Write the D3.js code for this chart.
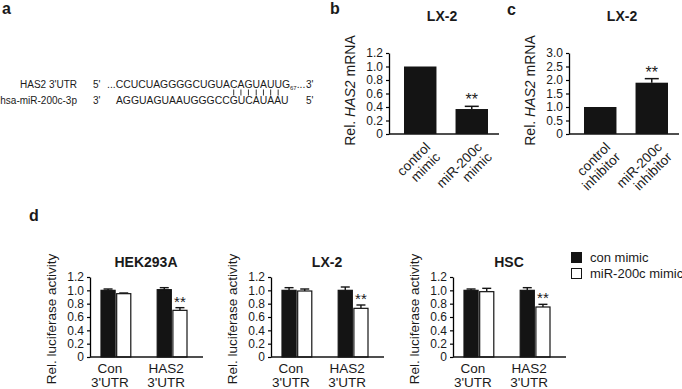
<!DOCTYPE html>
<html>
<head>
<meta charset="utf-8">
<script src="https://cdn.jsdelivr.net/npm/d3@7"></script>
<style>
  body { margin: 0; background: #fff; }
  text { font-family: Arial, "Liberation Sans", Helvetica, sans-serif; fill: #1a1a1a; }
</style>
</head>
<body>
<div id="chart"></div>
<script>
// ---- panel a: sequence pairing ----
const seqLabels = ["HAS2 3'UTR", "hsa-miR-200c-3p"];
const seqEnds = [["5'", "3'"], ["3'", "5'"]];
const utrSeq = "CCUCUAGGGGCUGUACAGUAUUG";
const utrPos = "67";
const mirSeq = "AGGUAGUAAUGGGCCGUCAUAAU";
const pairedIdx = [15, 16, 17, 18, 19, 20, 21];

// ---- panel b / c: qPCR ----
const bCategories = [["control", "mimic"], ["miR-200c", "mimic"]];
const bValues = [1.0, 0.37];
const bErrors = [0, 0.04];
const bSig = ["", "**"];
const bTicks = [0, 0.2, 0.4, 0.6, 0.8, 1.0, 1.2];

const cCategories = [["control", "inhibitor"], ["miR-200c", "inhibitor"]];
const cValues = [1.0, 1.9];
const cErrors = [0, 0.15];
const cSig = ["", "**"];
const cTicks = [0, 0.5, 1.0, 1.5, 2.0, 2.5, 3.0];

// ---- panel d: luciferase ----
const lucCells = ["HEK293A", "LX-2", "HSC"];
const lucGroups = [["Con", "3'UTR"], ["HAS2", "3'UTR"]];
const lucSeries = ["con mimic", "miR-200c mimic"];
const conMimicValues = [[1.0, 1.01], [1.0, 1.0], [1.0, 1.0]];
const conMimicErrors = [[0.02, 0.03], [0.04, 0.05], [0.02, 0.04]];
const mirMimicValues = [[0.95, 0.70], [0.99, 0.73], [0.98, 0.75]];
const mirMimicErrors = [[0.01, 0.04], [0.03, 0.05], [0.05, 0.04]];
const lucSig = [["", ""], ["", "**"]];
const lucTicks = [0, 0.2, 0.4, 0.6, 0.8, 1.0, 1.2];

const svg = d3.select("#chart").append("svg")
    .attr("width", 682)
    .attr("height", 389);

const fmt = d => d === 0 ? "0" : d3.format(".1f")(d);
const ink = "#141414";

// panel letters
[["a", 2, 14], ["b", 330, 14], ["c", 507, 15], ["d", 29, 221]].forEach(([t, x, y]) => {
    svg.append("text").attr("x", x).attr("y", y)
        .attr("font-size", "16px").attr("font-weight", "bold").text(t);
});

// --- a ---
const seqFont = 10;
const gA = svg.append("g");
seqLabels.forEach((lab, i) => {
    const y = i === 0 ? 88 : 104;
    gA.append("text").attr("x", 77).attr("y", y).attr("text-anchor", "end")
        .attr("font-size", seqFont + "px").text(lab);
    gA.append("text").attr("x", 93).attr("y", y)
        .attr("font-size", seqFont + "px").text(seqEnds[i][0]);
    gA.append("text").attr("x", 306).attr("y", y)
        .attr("font-size", seqFont + "px").text(seqEnds[i][1]);
});
const topSeq = gA.append("text").attr("x", 107).attr("y", 88).attr("font-size", "10.4px");
topSeq.append("tspan").text("..." + utrSeq);
topSeq.append("tspan").attr("font-size", "6px").attr("dy", 2).text(utrPos);
topSeq.append("tspan").attr("dy", -2).text("...");

const botSeq = gA.append("text").attr("x", 118).attr("y", 104).attr("font-size", "10.4px").text(mirSeq);

// align the miRNA so paired bases sit under the target bases
const topNode = topSeq.node();
const botNode = botSeq.node();
const tExt = topNode.getExtentOfChar(pairedIdx[0] + 3);
const bExt = botNode.getExtentOfChar(pairedIdx[0]);
botSeq.attr("x", 118 + (tExt.x + tExt.width / 2) - (bExt.x + bExt.width / 2));

pairedIdx.forEach(i => {
    const e = topNode.getExtentOfChar(i + 3);
    const cx = e.x + e.width / 2;
    gA.append("line").attr("x1", cx).attr("x2", cx).attr("y1", 89.5).attr("y2", 95.5)
        .attr("stroke", "#222").attr("stroke-width", 0.9);
});

// --- b and c ---
function qpcrPanel(x0, ticks, cats, values, errors, sig, title) {
    const yBottom = 134, yTop = 53, axisLen = 110;
    const g = svg.append("g");
    const y = d3.scaleLinear().domain([0, ticks[ticks.length - 1]]).range([yBottom, yTop]);
    const x = d3.scaleBand().domain(d3.range(values.length))
        .range([x0 + 15, x0 + 15 + 84]).paddingInner(0.37).paddingOuter(0);

    g.append("g").attr("transform", `translate(${x0},0)`)
        .call(d3.axisLeft(y).tickValues(ticks).tickFormat(fmt).tickSize(3).tickSizeOuter(0))
        .call(a => a.select(".domain").attr("stroke-width", 1.3))
        .call(a => a.selectAll("line").attr("stroke-width", 1.2))
        .call(a => a.selectAll("text").attr("font-size", "12px").attr("font-family", null).attr("fill", "#1a1a1a"));

    g.selectAll(".bar").data(values).join("rect")
        .attr("x", (d, i) => x(i)).attr("width", x.bandwidth())
        .attr("y", d => y(d)).attr("height", d => yBottom - y(d))
        .attr("fill", ink);

    values.forEach((v, i) => {
        if (!errors[i]) return;
        const cx = x(i) + x.bandwidth() / 2;
        g.append("line").attr("x1", cx).attr("x2", cx).attr("y1", y(v)).attr("y2", y(v + errors[i]))
            .attr("stroke", ink).attr("stroke-width", 1.5);
        g.append("line").attr("x1", cx - 7).attr("x2", cx + 7).attr("y1", y(v + errors[i])).attr("y2", y(v + errors[i]))
            .attr("stroke", ink).attr("stroke-width", 1.5);
    });

    sig.forEach((s, i) => {
        if (!s) return;
        g.append("text").attr("x", x(i) + x.bandwidth() / 2).attr("y", y(values[i] + errors[i]) - 1)
            .attr("text-anchor", "middle").attr("font-size", "16px").attr("fill", "#333").text(s);
    });

    g.append("line").attr("x1", x0).attr("x2", x0 + axisLen).attr("y1", yBottom).attr("y2", yBottom)
        .attr("stroke", ink).attr("stroke-width", 1.3);

    cats.forEach((c, i) => {
        const cx = x(i) + x.bandwidth() / 2;
        const t = g.append("text").attr("text-anchor", "end").attr("font-size", "13.5px")
            .attr("transform", `translate(${cx + 11},${yBottom + 14}) rotate(-45)`);
        c.forEach((line, k) => t.append("tspan").attr("x", 0).attr("dy", k === 0 ? 0 : 14).text(line));
    });

    g.append("text").attr("x", x0 + 53).attr("y", 21).attr("text-anchor", "middle")
        .attr("font-size", "14px").attr("font-weight", "bold").text(title);

    const lab = g.append("text").attr("text-anchor", "middle").attr("font-size", "14px")
        .attr("transform", `translate(${x0 - 34},${(yTop + yBottom) / 2 - 3}) rotate(-90)`);
    lab.append("tspan").text("Rel. ");
    lab.append("tspan").attr("font-style", "italic").text("HAS2");
    lab.append("tspan").text(" mRNA");
}

qpcrPanel(389, bTicks, bCategories, bValues, bErrors, bSig, "LX-2");
qpcrPanel(569, cTicks, cCategories, cValues, cErrors, cSig, "LX-2");

// --- d ---
function lucPanel(x0, idx) {
    const yBottom = 357, yTop = 277, axisLen = 113;
    const g = svg.append("g");
    const y = d3.scaleLinear().domain([0, 1.2]).range([yBottom, yTop]);
    const xg = d3.scaleBand().domain(d3.range(lucGroups.length))
        .range([x0 + 11, x0 + 97]).paddingInner(0.47).paddingOuter(0);
    const xs = d3.scaleBand().domain(d3.range(lucSeries.length))
        .range([0, xg.bandwidth()]).paddingInner(0.1);

    g.append("g").attr("transform", `translate(${x0},0)`)
        .call(d3.axisLeft(y).tickValues(lucTicks).tickFormat(fmt).tickSize(3).tickSizeOuter(0))
        .call(a => a.select(".domain").attr("stroke-width", 1.3))
        .call(a => a.selectAll("line").attr("stroke-width", 1.2))
        .call(a => a.selectAll("text").attr("font-size", "12px").attr("font-family", null).attr("fill", "#1a1a1a"));

    const series = [
        { vals: conMimicValues[idx], errs: conMimicErrors[idx], fill: ink },
        { vals: mirMimicValues[idx], errs: mirMimicErrors[idx], fill: "#fff" }
    ];

    lucGroups.forEach((grp, gi) => {
        series.forEach((s, si) => {
            const bx = xg(gi) + xs(si);
            const bw = xs.bandwidth();
            const v = s.vals[gi], e = s.errs[gi];
            const cx = bx + bw / 2;
            g.append("line").attr("x1", cx).attr("x2", cx).attr("y1", y(v)).attr("y2", y(v + e))
                .attr("stroke", ink).attr("stroke-width", 1.4);
            g.append("line").attr("x1", cx - 4.5).attr("x2", cx + 4.5).attr("y1", y(v + e)).attr("y2", y(v + e))
                .attr("stroke", ink).attr("stroke-width", 1.4);
            g.append("rect").attr("x", bx).attr("width", bw)
                .attr("y", y(v)).attr("height", yBottom - y(v))
                .attr("fill", s.fill).attr("stroke", ink).attr("stroke-width", 1.2);
            const sg = lucSig[si][gi];
            if (sg) {
                g.append("text").attr("x", cx).attr("y", y(v + e) - 1)
                    .attr("text-anchor", "middle").attr("font-size", "15px").attr("fill", "#555").text(sg);
            }
        });
        const t = g.append("text").attr("text-anchor", "middle").attr("font-size", "13.5px");
        grp.forEach((line, k) => t.append("tspan")
            .attr("x", xg(gi) + xg.bandwidth() / 2 - 6)
            .attr("y", k === 0 ? 373 : 387).text(line));
    });

    g.append("line").attr("x1", x0).attr("x2", x0 + axisLen).attr("y1", yBottom).attr("y2", yBottom)
        .attr("stroke", ink).attr("stroke-width", 1.3);

    g.append("text").attr("x", x0 + 56).attr("y", 267).attr("text-anchor", "middle")
        .attr("font-size", "14px").attr("font-weight", "bold").text(lucCells[idx]);

    g.append("text").attr("text-anchor", "middle").attr("font-size", "13.5px")
        .attr("transform", `translate(${x0 - 34},${(yTop + yBottom) / 2 + 2}) rotate(-90)`)
        .text("Rel. luciferase activity");
}

[90, 271, 453].forEach((x0, i) => lucPanel(x0, i));

// legend
const legend = svg.append("g").attr("transform", "translate(571,252)");
lucSeries.forEach((s, i) => {
    legend.append("rect").attr("x", 0.5).attr("y", i * 16 + 0.5).attr("width", 10).attr("height", 10)
        .attr("fill", i === 0 ? ink : "#fff").attr("stroke", ink).attr("stroke-width", 1);
    legend.append("text").attr("x", 19).attr("y", i * 16 + 10).attr("font-size", "13px").text(s);
});
</script>
</body>
</html>
